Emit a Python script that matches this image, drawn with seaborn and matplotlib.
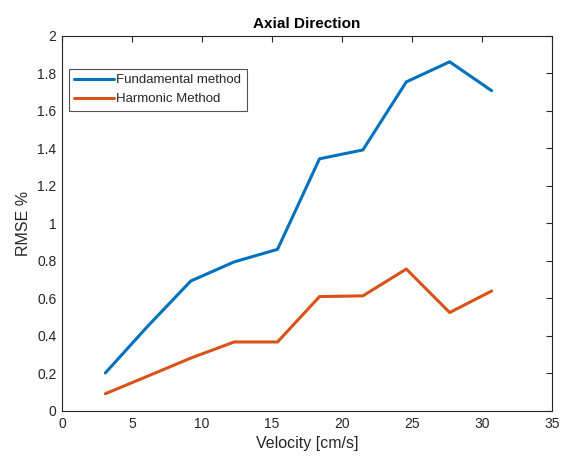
import matplotlib
matplotlib.use("Agg")
import matplotlib.pyplot as plt
import seaborn as sns
import pandas as pd

velocity = [3.1, 6.1, 9.2, 12.3, 15.4, 18.4, 21.5, 24.6, 27.7, 30.7]
fundamental = [0.203, 0.45, 0.693, 0.795, 0.862, 1.345, 1.392, 1.755, 1.862, 1.708]
harmonic = [0.092, 0.185, 0.282, 0.368, 0.368, 0.610, 0.614, 0.757, 0.525, 0.640]
series_names = ["Fundamental method", "Harmonic Method"]
x_ticks = [0, 5, 10, 15, 20, 25, 30, 35]
y_ticks = [0, 0.2, 0.4, 0.6, 0.8, 1, 1.2, 1.4, 1.6, 1.8, 2]
y_tick_labels = ["0", "0.2", "0.4", "0.6", "0.8", "1", "1.2", "1.4", "1.6", "1.8", "2"]

sns.set_theme(style="white")
plt.rcParams['font.family'] = ['Liberation Sans', 'DejaVu Sans']

df = pd.DataFrame({
    "Velocity": velocity * 2,
    "RMSE": fundamental + harmonic,
    "Method": [series_names[0]] * len(velocity) + [series_names[1]] * len(velocity),
})

fig = plt.figure(figsize=(5.66, 4.61), dpi=100)
ax = fig.add_axes([0.1095, 0.1085, 0.8655, 0.8135])
sns.lineplot(data=df, x="Velocity", y="RMSE", hue="Method",
             palette=["#0072BD", "#D95319"], linewidth=2.2, ax=ax)

ax.set_xlim(0, 35)
ax.set_ylim(0, 2)
ax.set_xticks(x_ticks)
ax.set_xticklabels([str(t) for t in x_ticks])
ax.set_yticks(y_ticks)
ax.set_yticklabels(y_tick_labels)
ax.tick_params(direction="in", top=True, right=True, length=4, width=0.8,
               labelsize=10, colors="#262626", labelcolor="#262626", pad=4)
for s in ax.spines.values():
    s.set_color("#262626")
    s.set_linewidth(0.8)
ax.set_xlabel("Velocity [cm/s]", fontsize=11.5, color="#262626")
ax.set_ylabel("RMSE %", fontsize=11.5, color="#262626")
ax.set_title("Axial Direction", fontsize=11, fontweight="bold", color="black", pad=6)

leg = ax.legend(loc="upper left", bbox_to_anchor=(0.014, 0.912), fontsize=9.5,
                frameon=True, fancybox=False, borderpad=0.4, labelspacing=0.5,
                handlelength=3.0, handletextpad=0.2, borderaxespad=0)
leg.get_frame().set_edgecolor("#262626")
leg.get_frame().set_linewidth(0.8)
for t in leg.get_texts():
    t.set_color("#262626")

fig.savefig("out.png", dpi=100)
